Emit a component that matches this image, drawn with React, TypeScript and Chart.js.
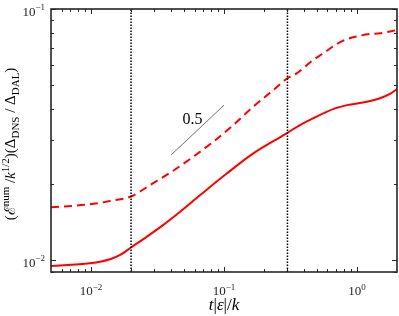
import React, { useEffect, useRef } from "react";
import { Chart, registerables } from "chart.js";

Chart.register(...registerables);

// ---- data ----
const solidX = [0.005, 0.0098, 0.0139, 0.0167, 0.02, 0.0262, 0.035, 0.047, 0.0659, 0.1048, 0.1661, 0.2935, 0.3727, 0.467, 0.684, 0.841, 1.19, 1.49, 1.77, 2.0];
const solidY = [0.00946, 0.0097, 0.01007, 0.0105, 0.01122, 0.01237, 0.0138, 0.0156, 0.0181, 0.0221, 0.0266, 0.0319, 0.0345, 0.0367, 0.0402, 0.0414, 0.0427, 0.0441, 0.0459, 0.048];

const dashedX = [0.005, 0.0098, 0.0139, 0.02, 0.0278, 0.0404, 0.0588, 0.0831, 0.1174, 0.1661, 0.2348, 0.3, 0.352, 0.467, 0.558, 0.708, 0.837, 1.0, 1.253, 1.49, 2.0];
const dashedY = [0.01622, 0.01667, 0.01718, 0.01791, 0.01989, 0.02247, 0.0258, 0.0296, 0.03449, 0.04081, 0.04755, 0.053, 0.0554, 0.0626, 0.0666, 0.0726, 0.0758, 0.0778, 0.0795, 0.080, 0.0825];

const vLinesX = [0.02, 0.3];
const slopeX = [0.04, 0.1];
const slopeY = [0.0262, 0.0414];
const slopeLabel = "0.5";
const slopeLabelPos = [0.058, 0.0348];

const xRange = [0.005, 2];
const yRange = [0.00896, 0.1];

const xMajor = [0.01, 0.1, 1];
const xMajorLabels = ["\u22122", "\u22121", "0"];
const yMajor = [0.01, 0.1];
const yMajorLabels = ["\u22122", "\u22121"];

const SERIF = '"Liberation Serif", "DejaVu Serif", serif';

type Part = { t: string; k?: "sup" | "sub"; it?: boolean };

function partFont(p: Part, base: number) {
  const size = p.k ? Math.round(base * 0.7) : base;
  return `${p.it ? "italic " : ""}${size}px ${SERIF}`;
}

function drawRich(ctx: CanvasRenderingContext2D, parts: Part[], x: number, y: number, base: number, align: "left" | "center" | "right") {
  let total = 0;
  const widths = parts.map((p) => {
    ctx.font = partFont(p, base);
    const w = ctx.measureText(p.t).width;
    total += w;
    return w;
  });
  let cx = align === "left" ? x : align === "center" ? x - total / 2 : x - total;
  ctx.textAlign = "left";
  ctx.textBaseline = "alphabetic";
  parts.forEach((p, i) => {
    ctx.font = partFont(p, base);
    const dy = p.k === "sup" ? -base * 0.4 : p.k === "sub" ? base * 0.25 : 0;
    ctx.fillText(p.t, cx, y + dy);
    cx += widths[i];
  });
}

function minorTicks(lo: number, hi: number) {
  const out: number[] = [];
  for (let e = -4; e <= 2; e++) {
    for (let m = 2; m <= 9; m++) {
      const v = m * Math.pow(10, e);
      if (v > lo * 1.001 && v < hi * 0.999) out.push(v);
    }
  }
  return out;
}

const framePlugin = {
  id: "matlabFrame",
  afterDraw(chart: any) {
    const ctx: CanvasRenderingContext2D = chart.ctx;
    const { left, right, top, bottom } = chart.chartArea;
    const xs = chart.scales.x;
    const ys = chart.scales.y;
    ctx.save();
    ctx.strokeStyle = "#262626";
    ctx.lineWidth = 1;
    const drawX = (v: number, len: number) => {
      const px = Math.round(xs.getPixelForValue(v)) + 0.5;
      ctx.beginPath();
      ctx.moveTo(px, bottom);
      ctx.lineTo(px, bottom - len);
      ctx.moveTo(px, top);
      ctx.lineTo(px, top + len);
      ctx.stroke();
    };
    const drawY = (v: number, len: number) => {
      const py = Math.round(ys.getPixelForValue(v)) + 0.5;
      ctx.beginPath();
      ctx.moveTo(left, py);
      ctx.lineTo(left + len, py);
      ctx.moveTo(right, py);
      ctx.lineTo(right - len, py);
      ctx.stroke();
    };
    minorTicks(xRange[0], xRange[1]).forEach((v) => drawX(v, 3));
    xMajor.forEach((v) => drawX(v, 5));
    minorTicks(yRange[0], yRange[1]).forEach((v) => drawY(v, 3));
    yMajor.forEach((v) => drawY(v, 5));
    ctx.lineWidth = 1.6;
    ctx.strokeRect(left, top, right - left, bottom - top);

    ctx.fillStyle = "#262626";
    xMajor.forEach((v, i) => {
      const px = xs.getPixelForValue(v);
      drawRich(ctx, [{ t: "10" }, { t: xMajorLabels[i], k: "sup" }], px, bottom + 23, 13, "center");
    });
    yMajor.forEach((v, i) => {
      const py = ys.getPixelForValue(v);
      drawRich(ctx, [{ t: "10" }, { t: yMajorLabels[i], k: "sup" }], left - 6, py + 6.5, 13, "right");
    });

    ctx.fillStyle = "#000";
    drawRich(
      ctx,
      [{ t: "t", it: true }, { t: "|" }, { t: "\u03b5", it: true }, { t: "|/" }, { t: "k", it: true }],
      (left + right) / 2,
      bottom + 38,
      17,
      "center"
    );

    ctx.save();
    ctx.translate(15, 144);
    ctx.rotate(-Math.PI / 2);
    drawRich(
      ctx,
      [
        { t: "(" },
        { t: "\u2130" },
        { t: "num", k: "sup" },
        { t: " /" },
        { t: "k", it: true },
        { t: "1/2", k: "sup" },
        { t: ")(\u0394" },
        { t: "DNS", k: "sub" },
        { t: " / \u0394" },
        { t: "DAL", k: "sub" },
        { t: ")" },
      ],
      0,
      0,
      15,
      "center"
    );
    ctx.restore();

    ctx.fillStyle = "#000";
    ctx.font = `16px ${SERIF}`;
    ctx.textAlign = "center";
    ctx.textBaseline = "alphabetic";
    ctx.fillText(slopeLabel, xs.getPixelForValue(slopeLabelPos[0]), ys.getPixelForValue(slopeLabelPos[1]));
    ctx.restore();
  },
};

export default function App() {
  const ref = useRef<HTMLCanvasElement>(null);
  useEffect(() => {
    document.body.style.margin = "0";
    const canvas = ref.current!;
    const datasets: any[] = [
      ...vLinesX.map((x) => ({
        data: [
          { x, y: yRange[0] },
          { x, y: yRange[1] },
        ],
        borderColor: "#000",
        borderWidth: 1.5,
        borderDash: [1.5, 1.5],
        pointRadius: 0,
        fill: false,
      })),
      {
        data: slopeX.map((x, i) => ({ x, y: slopeY[i] })),
        borderColor: "#6e6e6e",
        borderWidth: 1,
        pointRadius: 0,
        fill: false,
      },
      {
        data: dashedX.map((x, i) => ({ x, y: dashedY[i] })),
        borderColor: "#ff0000",
        borderWidth: 2,
        borderDash: [8, 5],
        pointRadius: 0,
        cubicInterpolationMode: "monotone",
        fill: false,
      },
      {
        data: solidX.map((x, i) => ({ x, y: solidY[i] })),
        borderColor: "#ff0000",
        borderWidth: 2,
        pointRadius: 0,
        cubicInterpolationMode: "monotone",
        fill: false,
      },
    ];
    const chart = new Chart(canvas, {
      type: "line",
      data: { datasets },
      options: {
        animation: false,
        responsive: false,
        devicePixelRatio: 1,
        layout: { padding: { left: 51, right: 2, top: 9, bottom: 44 } },
        plugins: { legend: { display: false }, tooltip: { enabled: false } },
        scales: {
          x: { type: "logarithmic", min: xRange[0], max: xRange[1], display: false },
          y: { type: "logarithmic", min: yRange[0], max: yRange[1], display: false },
        },
      },
      plugins: [framePlugin],
    });
    return () => chart.destroy();
  }, []);
  return (
    <div style={{ width: 399, height: 316, background: "#fff" }}>
      <canvas ref={ref} width={399} height={316} style={{ display: "block" }} />
    </div>
  );
}
